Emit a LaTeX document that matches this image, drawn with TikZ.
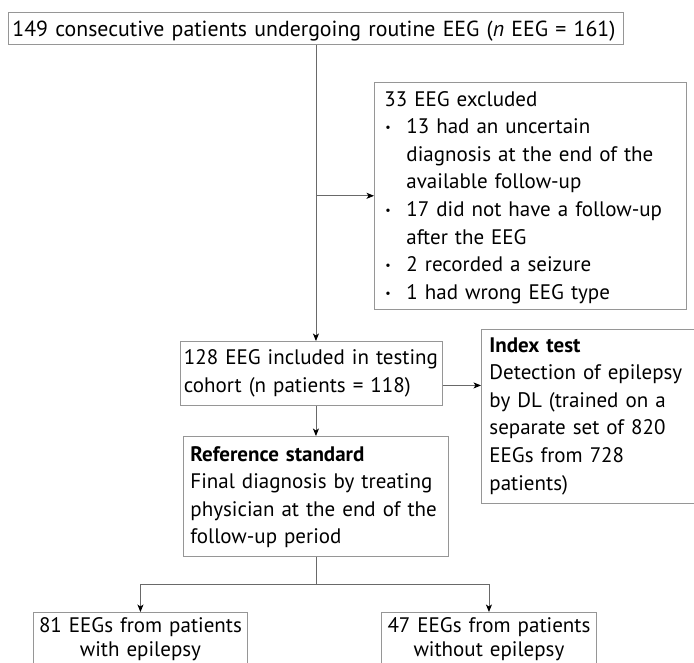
\documentclass[tikz,border=0pt]{standalone}
\usepackage{fontspec}
\setmainfont{PT Sans}
\usetikzlibrary{arrows.meta,calc}
\definecolor{boxgray}{RGB}{150,150,150}
\definecolor{linegray}{RGB}{105,105,105}
\newcommand{\bul}{\makebox[22pt][l]{\hspace{1pt}\raisebox{2pt}{\fontsize{12}{12}\selectfont\textbullet}}}
\newcommand{\ind}{\hspace*{22pt}}
\begin{document}
\begin{tikzpicture}[x=1pt,y=-1pt,
  font=\fontsize{21}{27.6}\selectfont,
  flowbox/.style={draw=boxgray, line width=0.9pt, inner ysep=0pt, align=left, anchor=north west},
  conn/.style={draw=linegray, line width=0.9pt},
  arr/.style={conn, -{Stealth[length=7.5pt,width=6pt,inset=2pt,color=black]}}]
\useasboundingbox (0,0) rectangle (694,663);
% top box
\node[flowbox, font=\fontsize{21.8}{27.6}\selectfont, inner xsep=4pt, text width=607pt, minimum width=615pt,
      text height=24pt, text depth=8pt] (top) at (8,12)
  {149 consecutive patients undergoing routine EEG (\textit{n} EEG = 161)};
% exclusion box
\node[flowbox, inner xsep=10pt, text width=292pt, minimum width=312pt,
      text height=24pt, text depth=203.3pt] (excl) at (374,81.7)
  {33 EEG excluded\\
   \bul 13 had an uncertain\\
   \ind diagnosis at the end of the\\
   \ind available follow-up\\
   \bul 17 did not have a follow-up\\
   \ind after the EEG\\
   \bul 2 recorded a seizure\\
   \bul 1 had wrong EEG type};
% included box
\node[flowbox, inner xsep=3.5pt, text width=255pt, minimum width=262pt,
      text height=23pt, text depth=41pt] (inc) at (180,341)
  {128 EEG included in testing\\cohort (n patients = 118)};
% index test box
\node[flowbox, inner xsep=8pt, text width=250pt, minimum width=266pt,
      text height=22.7pt, text depth=151.3pt] (idx) at (481,329)
  {\textbf{Index test}\\Detection of epilepsy\\by DL (trained on a\\separate set of 820\\EEGs from 728\\patients)};
% reference standard box
\node[flowbox, inner xsep=7pt, text width=251pt, minimum width=265pt,
      text height=24.7pt, text depth=95.3pt] (ref) at (183,436)
  {\textbf{Reference standard}\\Final diagnosis by treating\\physician at the end of the\\follow-up period};
% outcome boxes
\node[flowbox, font=\fontsize{21}{24}\selectfont, align=center, inner xsep=3pt, text width=208pt, minimum width=214pt,
      text height=20pt, text depth=70pt] (epi) at (33,612)
  {81 EEGs from patients\\with epilepsy};
\node[flowbox, font=\fontsize{21}{24}\selectfont, align=center, inner xsep=3pt, text width=209pt, minimum width=215pt,
      text height=20pt, text depth=70pt] (nonepi) at (381,612)
  {47 EEGs from patients\\without epilepsy};
% connectors
\coordinate (branch) at (top.south |- excl.west);
\draw[arr] (top.south) -- (top.south |- inc.north);
\draw[arr] (branch) -- (excl.west |- branch);
\coordinate (incout) at ($(inc.east)+(0,12)$);
\draw[arr] (incout) -- (idx.west |- incout);
\draw[arr] (top.south |- inc.south) -- (top.south |- ref.north);
\coordinate (fork) at ($(ref.south)+(0,27.3)$);
\draw[conn] (ref.south) -- (fork);
\draw[arr] (fork) -| (epi.north);
\draw[arr] (fork) -| (nonepi.north);
\end{tikzpicture}
\end{document}
